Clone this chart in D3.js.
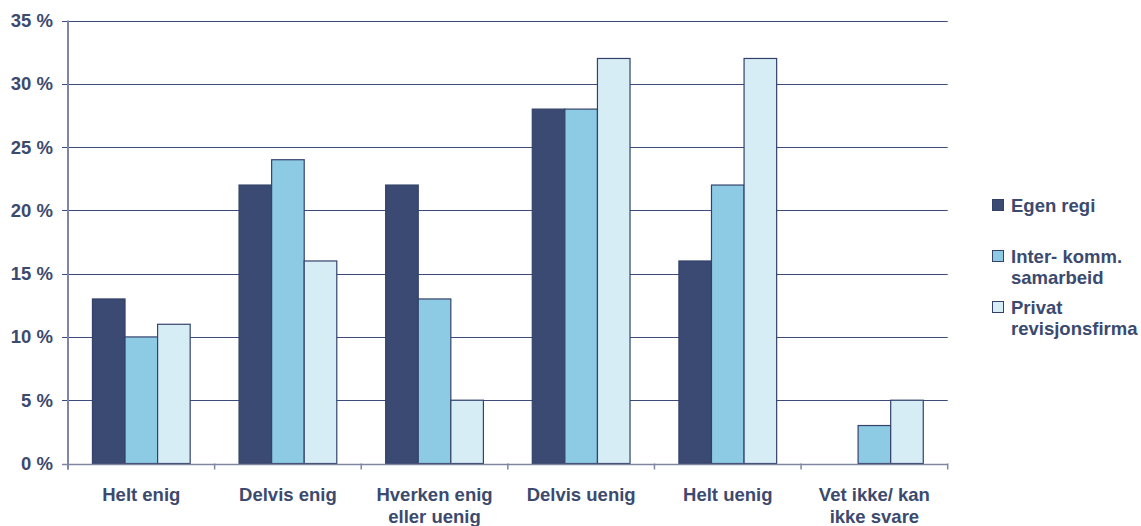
<!DOCTYPE html>
<html>
<head>
<meta charset="utf-8">
<script src="https://cdn.jsdelivr.net/npm/d3@7"></script>
<style>
  body { margin: 0; background: #fff; }
  text { font-family: "Liberation Sans", Arial, sans-serif; font-weight: bold; fill: #3b4a6e; }
</style>
</head>
<body>
<svg id="chart" width="1141" height="526"></svg>
<script>
var categories = [["Helt enig"], ["Delvis enig"], ["Hverken enig", "eller uenig"], ["Delvis uenig"], ["Helt uenig"], ["Vet ikke/ kan", "ikke svare"]];
var series = ["Egen regi", "Inter- komm. samarbeid", "Privat revisjonsfirma"];
var legendLines = [["Egen regi"], ["Inter- komm.", "samarbeid"], ["Privat", "revisjonsfirma"]];
var egenRegi = [13, 22, 22, 28, 16, 0];
var interKomm = [10, 24, 13, 28, 22, 3];
var privat = [11, 16, 5, 32, 32, 5];
var yTicks = [0, 5, 10, 15, 20, 25, 30, 35];
var colors = ["#3b4a72", "#8dcbe5", "#d7edf6"];

var svg = d3.select("#chart");
var plotL = 68, plotR = 947.7, plotT = 20.5, plotB = 463.5;
var fs = "18.5px";

var catNames = categories.map(function (d) { return d.join(" "); });
var x0 = d3.scaleBand().domain(catNames).range([plotL, plotR]);
var bw = x0.bandwidth();
var x1 = d3.scaleBand().domain(series).range([bw / 6, bw * 5 / 6]);
var y = d3.scaleLinear().domain([0, 35]).range([plotB, plotT]);

var rows = catNames.map(function (c, i) {
    return { cat: c, values: [egenRegi[i], interKomm[i], privat[i]] };
});

// gridlines + y tick marks
svg.append("g").selectAll("line")
    .data(yTicks.filter(function (d) { return d > 0; }))
    .enter().append("line")
    .attr("x1", plotL - 6).attr("x2", plotR)
    .attr("y1", function (d) { return Math.round(y(d)) + 0.5; })
    .attr("y2", function (d) { return Math.round(y(d)) + 0.5; })
    .attr("stroke", "#3c4a7c").attr("stroke-width", 1.2);

svg.append("line")
    .attr("x1", plotL - 6).attr("x2", plotL)
    .attr("y1", Math.round(y(0)) + 0.5).attr("y2", Math.round(y(0)) + 0.5)
    .attr("stroke", "#7f86a3").attr("stroke-width", 1.5);

// y labels
svg.append("g").selectAll("text")
    .data(yTicks)
    .enter().append("text")
    .attr("x", 53)
    .attr("y", function (d) { return y(d) + 6.5; })
    .attr("text-anchor", "end")
    .style("font-size", fs)
    .text(function (d) { return d + " %"; });

// bars
var groups = svg.append("g").selectAll("g")
    .data(rows)
    .enter().append("g")
    .attr("transform", function (d) { return "translate(" + x0(d.cat) + ",0)"; });

groups.selectAll("rect")
    .data(function (d) { return d.values.map(function (v, i) { return { key: series[i], v: v, i: i }; }); })
    .enter().append("rect")
    .filter(function (d) { return d.v > 0; })
    .attr("x", function (d) { return x1(d.key); })
    .attr("width", x1.bandwidth())
    .attr("y", function (d) { return y(d.v); })
    .attr("height", function (d) { return y(0) - y(d.v); })
    .attr("fill", function (d) { return colors[d.i]; })
    .attr("stroke", "#34426a")
    .attr("stroke-width", 1.2);

// axes lines
svg.append("line")
    .attr("x1", plotL).attr("x2", plotL).attr("y1", plotT).attr("y2", plotB + 6)
    .attr("stroke", "#7f86a3").attr("stroke-width", 2);
svg.append("line")
    .attr("x1", plotL).attr("x2", plotR).attr("y1", Math.round(y(0)) + 0.5).attr("y2", Math.round(y(0)) + 0.5)
    .attr("stroke", "#7f86a3").attr("stroke-width", 1.5);

// x tick marks at band edges
var edges = catNames.map(function (c) { return x0(c); }).concat([plotR]);
svg.append("g").selectAll("line")
    .data(edges)
    .enter().append("line")
    .attr("x1", function (d) { return d; }).attr("x2", function (d) { return d; })
    .attr("y1", plotB).attr("y2", plotB + 6)
    .attr("stroke", "#7f86a3").attr("stroke-width", 1.5);

// category labels
var catLabels = svg.append("g").selectAll("text")
    .data(categories)
    .enter().append("text")
    .attr("text-anchor", "middle")
    .attr("x", function (d, i) { return x0(catNames[i]) + bw / 2; })
    .attr("y", 501)
    .style("font-size", fs);
catLabels.selectAll("tspan")
    .data(function (d) { return d; })
    .enter().append("tspan")
    .attr("x", function () { return d3.select(this.parentNode).attr("x"); })
    .attr("dy", function (d, i) { return i === 0 ? 0 : 21.5; })
    .text(function (d) { return d; });

// legend
var legendY = [205, 256, 307];
var legend = svg.append("g").selectAll("g")
    .data(legendLines)
    .enter().append("g")
    .attr("transform", function (d, i) { return "translate(992," + legendY[i] + ")"; });
legend.append("rect")
    .attr("x", 0.5).attr("y", -5.5).attr("width", 11).attr("height", 11)
    .attr("fill", function (d, i) { return colors[i]; })
    .attr("stroke", "#34426a").attr("stroke-width", 1);
var lt = legend.append("text")
    .attr("x", 19).attr("y", 6.5)
    .style("font-size", fs);
lt.selectAll("tspan")
    .data(function (d) { return d; })
    .enter().append("tspan")
    .attr("x", 19)
    .attr("dy", function (d, i) { return i === 0 ? 0 : 21; })
    .text(function (d) { return d; });
</script>
</body>
</html>
